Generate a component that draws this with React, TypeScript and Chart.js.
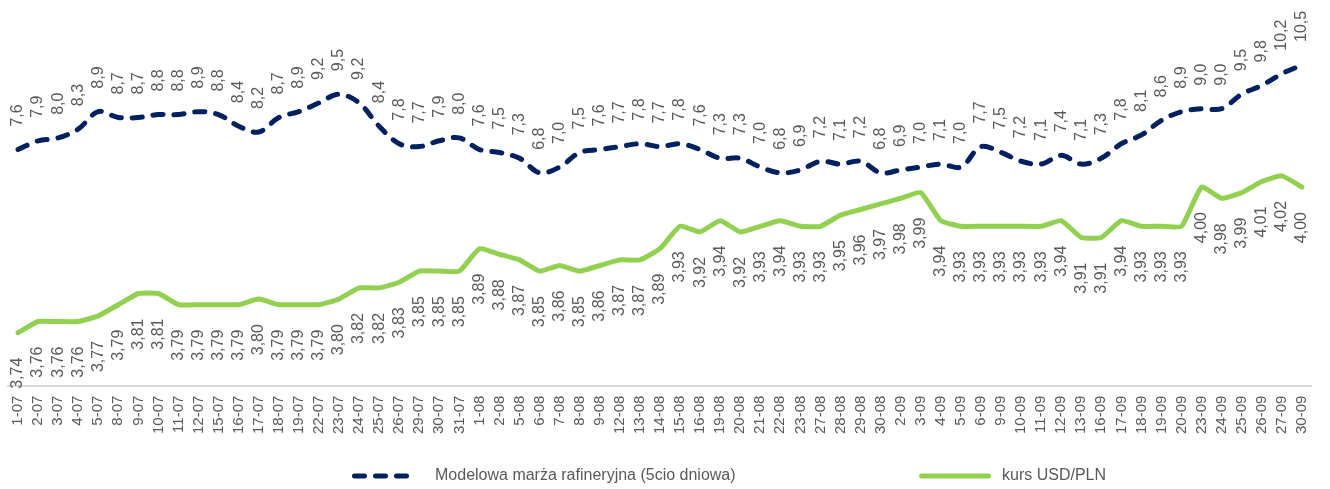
import React, { useEffect, useRef } from "react";
import { Chart, registerables } from "chart.js";

Chart.register(...registerables);

const categories = [
  "1-07", "2-07", "3-07", "4-07", "5-07", "8-07", "9-07", "10-07", "11-07", "12-07", "15-07", "16-07",
  "17-07", "18-07", "19-07", "22-07", "23-07", "24-07", "25-07", "26-07", "29-07", "30-07", "31-07",
  "1-08", "2-08", "5-08", "6-08", "7-08", "8-08", "9-08", "12-08", "13-08", "14-08", "15-08", "16-08",
  "19-08", "20-08", "21-08", "22-08", "23-08", "27-08", "28-08", "29-08", "30-08",
  "2-09", "3-09", "4-09", "5-09", "6-09", "9-09", "10-09", "11-09", "12-09", "13-09", "16-09", "17-09",
  "18-09", "19-09", "20-09", "23-09", "24-09", "25-09", "26-09", "27-09", "30-09",
];

const marginValues = [
  7.6, 7.9, 8.0, 8.3, 8.9, 8.7, 8.7, 8.8, 8.8, 8.9, 8.8, 8.4, 8.2, 8.7, 8.9, 9.2, 9.5, 9.2, 8.4, 7.8, 7.7, 7.9, 8.0,
  7.6, 7.5, 7.3, 6.8, 7.0, 7.5, 7.6, 7.7, 7.8, 7.7, 7.8, 7.6, 7.3, 7.3, 7.0, 6.8, 6.9, 7.2, 7.1, 7.2, 6.8,
  6.9, 7.0, 7.1, 7.0, 7.7, 7.5, 7.2, 7.1, 7.4, 7.1, 7.3, 7.8, 8.1, 8.6, 8.9, 9.0, 9.0, 9.5, 9.8, 10.2, 10.5,
];

const usdValues = [
  3.74, 3.76, 3.76, 3.76, 3.77, 3.79, 3.81, 3.81, 3.79, 3.79, 3.79, 3.79, 3.80, 3.79, 3.79, 3.79, 3.80, 3.82, 3.82, 3.83, 3.85, 3.85, 3.85,
  3.89, 3.88, 3.87, 3.85, 3.86, 3.85, 3.86, 3.87, 3.87, 3.89, 3.93, 3.92, 3.94, 3.92, 3.93, 3.94, 3.93, 3.93, 3.95, 3.96, 3.97,
  3.98, 3.99, 3.94, 3.93, 3.93, 3.93, 3.93, 3.93, 3.94, 3.91, 3.91, 3.94, 3.93, 3.93, 3.93, 4.00, 3.98, 3.99, 4.01, 4.02, 4.00,
];

const seriesNames = ["Modelowa marża rafineryjna (5cio dniowa)", "kurs USD/PLN"];

const FONT = '"Liberation Sans", Arial, sans-serif';
const TEXT_COLOR = "#595959";
const NAVY = "#002060";
const GREEN = "#92D050";

const dataLabelsPlugin = {
  id: "dataLabels",
  afterDatasetsDraw(chart: any) {
    const ctx = chart.ctx;
    chart.data.datasets.forEach((ds: any, i: number) => {
      const meta = chart.getDatasetMeta(i);
      const decimals = i === 0 ? 1 : 2;
      meta.data.forEach((pt: any, j: number) => {
        const v = ds.data[j] as number;
        const text = v.toFixed(decimals).replace(".", ",");
        ctx.save();
        ctx.translate(pt.x, pt.y + (i === 0 ? -23 : 25));
        ctx.rotate(-Math.PI / 2);
        ctx.font = `16px ${FONT}`;
        ctx.fillStyle = TEXT_COLOR;
        ctx.textBaseline = "middle";
        ctx.textAlign = i === 0 ? "left" : "right";
        ctx.fillText(text, 0, 0);
        ctx.restore();
      });
    });
  },
};

const legendPlugin = {
  id: "customLegend",
  afterDraw(chart: any) {
    const ctx = chart.ctx;
    const y = 476;
    const items = [
      { x0: 354.5, x1: 416.5, tx: 435, ds: chart.data.datasets[0] },
      { x0: 921.5, x1: 988.5, tx: 1002, ds: chart.data.datasets[1] },
    ];
    items.forEach((it) => {
      ctx.save();
      ctx.strokeStyle = it.ds.borderColor;
      ctx.lineWidth = it.ds.borderWidth;
      ctx.lineCap = "round";
      ctx.setLineDash(it.ds.borderDash || []);
      ctx.beginPath();
      ctx.moveTo(it.x0, y);
      ctx.lineTo(it.x1, y);
      ctx.stroke();
      ctx.setLineDash([]);
      ctx.font = `16px ${FONT}`;
      ctx.fillStyle = TEXT_COLOR;
      ctx.textBaseline = "middle";
      ctx.textAlign = "left";
      ctx.fillText(it.ds.label, it.tx, y);
      ctx.restore();
    });
  },
};

export default function App() {
  const canvasRef = useRef<HTMLCanvasElement | null>(null);

  useEffect(() => {
    if (!canvasRef.current) return;
    const chart = new Chart(canvasRef.current, {
      type: "line",
      data: {
        labels: categories,
        datasets: [
          {
            label: seriesNames[0],
            data: marginValues,
            yAxisID: "y",
            borderColor: NAVY,
            backgroundColor: NAVY,
            borderWidth: 5,
            borderDash: [10, 11],
            borderCapStyle: "round",
            pointRadius: 0,
            tension: 0.35,
            fill: false,
          },
          {
            label: seriesNames[1],
            data: usdValues,
            yAxisID: "y1",
            borderColor: GREEN,
            backgroundColor: GREEN,
            borderWidth: 5,
            borderCapStyle: "round",
            borderJoinStyle: "round",
            pointRadius: 0,
            tension: 0.15,
            fill: false,
          },
        ],
      },
      options: {
        responsive: false,
        animation: false,
        devicePixelRatio: 1,
        layout: { padding: { left: 8, right: 10, top: 0, bottom: 45 } },
        plugins: {
          legend: { display: false },
          tooltip: { enabled: false },
        },
        scales: {
          x: {
            offset: true,
            grid: { display: false, drawTicks: false },
            border: { display: true, color: "#d9d9d9", width: 2 },
            ticks: {
              autoSkip: false,
              maxRotation: 90,
              minRotation: 90,
              padding: 10,
              color: TEXT_COLOR,
              font: { family: FONT, size: 15 },
            },
          },
          y: { display: false, min: -0.5, max: 12.73 },
          y1: { display: false, min: 3.6455, max: 4.334 },
        },
      },
      plugins: [dataLabelsPlugin, legendPlugin],
    });
    return () => chart.destroy();
  }, []);

  return (
    <div style={{ position: "absolute", left: 0, top: 0, width: 1330, height: 489, background: "#fff" }}>
      <canvas ref={canvasRef} width={1330} height={489} style={{ display: "block" }} />
    </div>
  );
}
